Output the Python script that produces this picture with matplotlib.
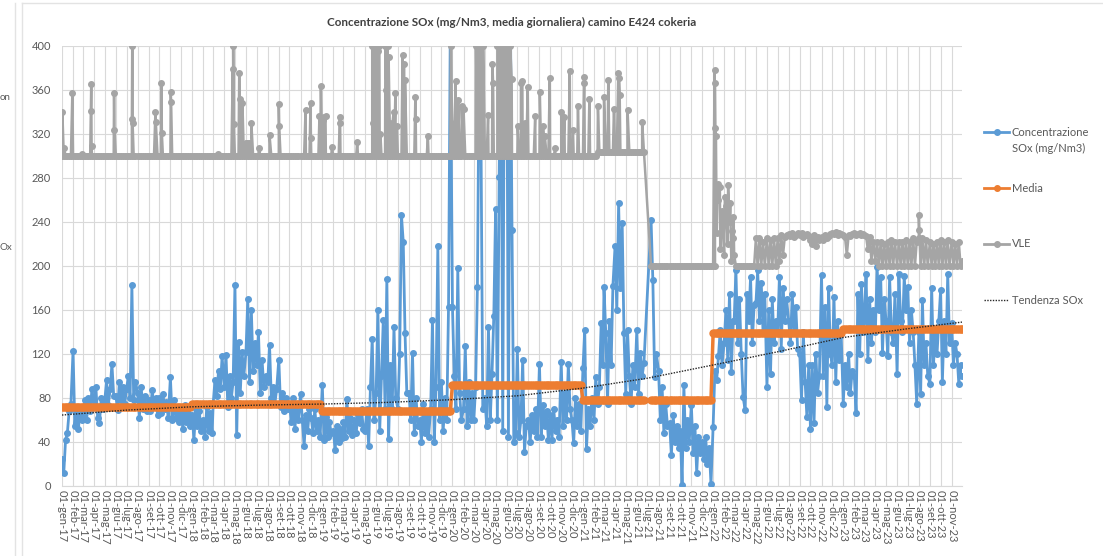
import numpy as np
import pandas as pd
import matplotlib

matplotlib.use('Agg')
import matplotlib.pyplot as plt
from matplotlib.lines import Line2D

plt.rcParams['font.family'] = ['Lato', 'DejaVu Sans']

nan = np.nan

# campioni ogni 5 giorni (giorni 1, 6, 11, 16, 21, 26 di ogni mese)
sox_2017 = [25, 12, 42, 48, 68, 75, 123, 55, 72, 52, 70, 60,
            65, 78, 60, 80, 68, 88, 72, 90, 62, 57, 80, 70,
            78, 96, 74, 88, 111, 82, 82, 69, 95, 78, 90, 75,
            88, 100, 80, 183, 78, 95, 85, 62, 90, 70, 82, 68,
            78, 68, 87, 72, 80, 65, 80, 66, 84, 70, 76, 62,
            99, 60, 78, 62, 72, 58, 70, 52, 74, 58, 66, 55]
sox_2018 = [65, 42, 70, 55, 68, 50, 60, 45, 72, 50, 66, 48,
            75, 96, 82, 105, 88, 118, 90, 119, 72, 100, 80, 95,
            183, 46, 131, 85, 122, 100, 122, 170, 95, 160, 105, 130,
            110, 140, 85, 115, 90, 100, 95, 128, 80, 90, 75, 88,
            115, 72, 85, 68, 80, 70, 75, 58, 80, 52, 70, 60,
            84, 60, 36, 65, 50, 70, 62, 48, 70, 50, 60, 45]
sox_2019 = [92, 42, 63, 45, 58, 48, 50, 33, 55, 40, 52, 44,
            58, 45, 79, 50, 62, 46, 60, 48, 65, 57, 70, 52,
            50, 70, 36, 90, 134, 60, 85, 160, 50, 100, 151, 70,
            188, 43, 110, 70, 145, 80, 70, 120, 246, 222, 139, 85,
            85, 60, 121, 48, 80, 55, 60, 40, 75, 48, 65, 45,
            70, 151, 40, 90, 218, 60, 95, 50, 80, 60, 163, 420]
sox_2020 = [163, 100, 70, 198, 85, 60, 70, 127, 55, 95, 60, 85,
            60, 90, 181, 392, 320, 70, 80, 55, 145, 60, 102, 155,
            252, 60, 281, 450, 50, 450, 450, 45, 450, 233, 40, 48,
            125, 45, 60, 115, 31, 55, 60, 40, 65, 50, 70, 45,
            111, 45, 74, 55, 68, 42, 65, 42, 70, 50, 60, 45,
            113, 55, 85, 60, 111, 70, 60, 39, 80, 55, 75, 50]
sox_2021 = [107, 142, 34, 70, 55, 80, 60, 99, 75, 90, 148, 110,
            181, 139, 75, 150, 110, 182, 218, 160, 257, 180, 239, 139,
            84, 142, 100, 75, 110, 90, 142, 84, 121, 100, 112, nan,
            nan, nan, 242, 187, 99, 120, 105, 60, 90, 48, 75, 55,
            57, 28, 65, 40, 55, 35, 50, 1, 92, 35, 60, 40,
            74, 30, 55, 12, 45, 30, 40, 25, 45, 20, 35, 2]
sox_2022 = [54, 105, 96, 118, 142, 110, 130, 160, 115, 175, 104, 150,
            150, 196, 130, 170, 120, 81, 69, 175, 150, 190, 130, 165,
            166, 196, 150, 185, 140, 175, 90, 160, 102, 170, 130, 150,
            140, 190, 125, 180, 150, 170, 150, 130, 175, 140, 163, 125,
            120, 78, 140, 95, 63, 110, 52, 110, 57, 120, 85, 100,
            192, 100, 163, 72, 180, 120, 110, 172, 95, 150, 115, 140]
sox_2023 = [75, 110, 90, 120, 85, 105, 100, 66, 175, 120, 184, 140,
            150, 193, 115, 170, 130, 160, 140, 199, 160, 190, 121, 170,
            150, 118, 190, 140, 130, 175, 102, 193, 150, 140, 191, 160,
            181, 130, 160, 140, 110, 75, 140, 84, 169, 110, 130, 100,
            93, 180, 110, 140, 120, 150, 178, 95, 150, 120, 193, 130,
            148, 110, 130, 120, 93, 110, 100]

vle_2017 = [300] * 72
vle_2018 = [300] * 72
vle_2019 = [300] * 72
vle_2020 = [300] * 72
vle_2021 = [300, 300, 300, 300, 300, 300, 300, 300, 304, 304, 304, 304,
            304, 304, 304, 304, 304, 304, 304, 304, 304, 304, 304, 304,
            304, 304, 304, 304, 304, 304, 304, 304, 304, 304, 304, nan,
            nan, nan, 200, 200, 200, 200, 200, 200, 200, 200, 200, 200,
            200, 200, 200, 200, 200, 200, 200, 200, 200, 200, 200, 200,
            200, 200, 200, 200, 200, 200, 200, 200, 200, 200, 200, 200]
vle_2022 = [200, 200, 230, 260, 215, 250, 210, 255, 220, 240, 205, 225,
            210, 200, 200, 200, 200, 200, 200, 200, 200, 200, 200, 200,
            225, 200, 225, 200, 222, 200, 225, 200, 224, 200, 225, 200,
            225, 205, 228, 210, 226, 228, 229, 227, 230, 226, 228, 230,
            228, 230, 226, 228, 229, 227, 224, 220, 228, 218, 226, 224,
            226, 224, 228, 225, 227, 229, 230, 229, 231, 228, 230, 229]
vle_2023 = [228, 226, 210, 228, 227, 229, 230, 228, 229, 230, 228, 229,
            228, 227, 215, 226, 205, 222, 205, 222, 200, 222, 200, 220,
            200, 222, 200, 224, 200, 222, 200, 222, 200, 222, 200, 224,
            200, 222, 200, 225, 200, 222, 225, 200, 225, 200, 224, 200,
            222, 200, 220, 200, 222, 200, 224, 200, 222, 200, 224, 200,
            222, 200, 220, 200, 222, 200, 205]

# picchi giornalieri del VLE
vle_picchi = [
    ("2017-01-02", 340), ("2017-01-07", 307), ("2017-01-30", 357), ("2017-02-26", 302),
    ("2017-03-23", 341), ("2017-03-24", 365), ("2017-03-25", 309),
    ("2017-05-27", 357), ("2017-05-28", 324),
    ("2017-07-16", 334), ("2017-07-17", 400), ("2017-07-18", 330),
    ("2017-09-20", 340), ("2017-09-21", 331), ("2017-10-07", 366), ("2017-10-08", 321),
    ("2017-11-02", 358), ("2017-11-03", 349), ("2018-03-15", 302),
    ("2018-04-25", 379), ("2018-04-26", 400), ("2018-04-27", 329),
    ("2018-05-13", 375), ("2018-05-14", 352), ("2018-05-22", 348),
    ("2018-06-01", 312), ("2018-06-04", 312), ("2018-06-07", 311), ("2018-06-10", 312),
    ("2018-06-16", 330), ("2018-07-08", 307), ("2018-08-06", 319),
    ("2018-09-01", 347), ("2018-09-02", 327), ("2018-11-15", 342),
    ("2018-11-29", 348), ("2018-11-30", 316),
    ("2018-12-24", 336), ("2018-12-28", 364), ("2019-01-02", 333), ("2019-01-06", 335),
    ("2019-01-10", 336), ("2019-01-28", 308), ("2019-02-19", 335), ("2019-02-20", 330),
    ("2019-04-09", 313),
    ("2019-05-21", 400), ("2019-05-24", 330), ("2019-05-27", 400), ("2019-05-31", 360),
    ("2019-06-03", 400), ("2019-06-06", 395), ("2019-06-10", 400), ("2019-06-13", 320),
    ("2019-06-27", 400), ("2019-06-30", 360), ("2019-07-03", 400), ("2019-07-06", 390),
    ("2019-07-09", 330), ("2019-07-16", 327), ("2019-07-20", 340), ("2019-07-25", 357),
    ("2019-07-29", 327), ("2019-08-14", 392), ("2019-08-18", 384), ("2019-08-21", 369),
    ("2019-09-19", 354), ("2019-09-20", 334), ("2019-10-24", 318), ("2019-12-28", 400),
    ("2020-01-07", 330), ("2020-01-10", 368), ("2020-01-17", 351), ("2020-01-27", 345),
    ("2020-02-01", 343),
    ("2020-03-07", 400), ("2020-03-11", 400), ("2020-03-15", 380), ("2020-03-19", 400),
    ("2020-03-23", 400), ("2020-03-27", 400), ("2020-04-10", 337),
    ("2020-04-22", 384), ("2020-04-24", 366),
    ("2020-05-06", 400), ("2020-05-10", 400), ("2020-05-14", 350), ("2020-05-18", 400),
    ("2020-05-22", 400), ("2020-05-26", 400), ("2020-05-30", 380), ("2020-06-03", 400),
    ("2020-06-07", 400), ("2020-06-11", 400), ("2020-06-15", 370),
    ("2020-07-02", 327), ("2020-07-11", 366), ("2020-07-15", 368), ("2020-07-22", 330),
    ("2020-07-30", 363), ("2020-08-20", 336), ("2020-09-02", 358), ("2020-09-11", 327),
    ("2020-09-16", 318), ("2020-09-30", 371), ("2020-10-15", 307), ("2020-11-01", 340),
    ("2020-11-10", 335), ("2020-11-25", 377), ("2020-12-04", 324), ("2020-12-18", 345),
    ("2021-01-04", 372), ("2021-01-05", 366), ("2021-01-19", 352), ("2021-02-12", 345),
    ("2021-03-01", 354), ("2021-03-13", 369), ("2021-03-29", 343),
    ("2021-04-10", 375), ("2021-04-12", 371), ("2021-04-14", 355),
    ("2021-05-06", 342), ("2021-06-16", 331),
    ("2022-01-05", 378), ("2022-01-06", 366), ("2022-01-07", 325), ("2022-01-09", 318),
    ("2022-01-14", 275), ("2022-01-20", 272), ("2022-01-27", 240), ("2022-02-03", 263),
    ("2022-02-12", 274), ("2022-02-18", 257), ("2022-02-22", 232), ("2022-02-27", 245),
    ("2023-08-01", 246), ("2023-08-02", 233),
]

anni = [2017, 2018, 2019, 2020, 2021, 2022, 2023]
media_annua = [72, 74.5, 68.5, 92, 78, 139, 142.5]

tendenza_date = ["2017-01-01", "2017-07-01", "2018-01-01", "2018-07-01", "2019-01-01",
                 "2019-07-01", "2020-01-01", "2020-07-01", "2021-01-01", "2021-07-01",
                 "2022-01-01", "2022-07-01", "2023-01-01", "2023-07-01", "2023-11-30"]
tendenza_val = [64.5, 69, 72, 73.5, 74.5, 76, 78.5, 82, 89, 98, 110, 122, 135, 143, 149]

mesi = ['gen', 'feb', 'mar', 'apr', 'mag', 'giu', 'lug', 'ago', 'set', 'ott', 'nov', 'dic']

BLUE = '#5B9BD5'
ORANGE = '#ED7D31'
GREY = '#A5A5A5'
TXT = '#595959'
GRID = '#D9D9D9'

W, H = 1103, 556


def fx(px):
    return px / W


def fy(py):
    return 1 - py / H


# date dei campioni
month_starts = pd.date_range("2017-01-01", "2023-11-01", freq="MS")
dates = [m + pd.Timedelta(days=d) for m in month_starts for d in (0, 5, 10, 15, 20, 25)]
dates.append(pd.Timestamp("2023-11-30"))
dates = pd.DatetimeIndex(dates)

sox = pd.Series(sox_2017 + sox_2018 + sox_2019 + sox_2020 + sox_2021 + sox_2022 + sox_2023,
                index=dates, dtype=float)
vle = pd.Series(vle_2017 + vle_2018 + vle_2019 + vle_2020 + vle_2021 + vle_2022 + vle_2023,
                index=dates, dtype=float)
picchi = pd.Series([v for _, v in vle_picchi],
                   index=pd.DatetimeIndex([d for d, _ in vle_picchi]), dtype=float)
vle = pd.concat([vle, picchi]).sort_index(kind='mergesort').dropna()

media_map = dict(zip(anni, media_annua))
media = pd.Series([media_map[d.year] for d in dates], index=dates, dtype=float)
media[sox.isna()] = nan
sox = sox.dropna()
media = media.dropna()
trend = pd.Series(tendenza_val, index=pd.DatetimeIndex(tendenza_date))

fig = plt.figure(figsize=(W / 100, H / 100), dpi=100)
ax = fig.add_axes([fx(62), fy(486), fx(962) - fx(62), fy(46) - fy(486)])

ax.plot(sox.index, sox.values, color=BLUE, lw=2.0, marker='o', ms=4.0, zorder=3)
ax.plot(media.index, media.values, color=ORANGE, lw=2.5, marker='o', ms=5.0, zorder=4)
ax.plot(vle.index, vle.values, color=GREY, lw=1.8, marker='o', ms=4.0, zorder=5)
ax.plot(trend.index, trend.values, color='#262626', lw=1.0, ls=(0, (1, 1)), zorder=6)

ax.set_ylim(0, 400)
ax.set_xlim(pd.Timestamp("2017-01-01"), pd.Timestamp("2023-11-30"))
ax.set_yticks(np.arange(0, 401, 40))
ax.set_xticks(month_starts)
ax.set_xticklabels([f"01-{mesi[m.month - 1]}-{m.year % 100:02d}" for m in month_starts],
                   rotation=270, ha='center', va='top')
ax.tick_params(axis='both', length=0, colors=TXT, labelsize=8)
ax.tick_params(axis='y', pad=8)
ax.tick_params(axis='x', pad=3)
ax.grid(True, color=GRID, lw=0.8, zorder=0)
ax.set_axisbelow(True)
for s in ['top', 'right', 'left']:
    ax.spines[s].set_visible(False)
ax.spines['bottom'].set_color(GRID)

fig.text(fx(512), fy(22), "Concentrazione SOx (mg/Nm3, media giornaliera) camino E424 cokeria",
         ha='center', va='center', fontsize=8.4, fontweight='bold', color='#404040')

# legenda a destra
leg = [(132, BLUE, '-', 'o', "Concentrazione"), (188, ORANGE, '-', 'o', "Media"),
       (244, GREY, '-', 'o', "VLE"), (300, '#262626', ':', None, "Tendenza SOx")]
for y, c, ls, mk, label in leg:
    lw = 1.0 if mk is None else 2.0
    fig.add_artist(Line2D([fx(984), fx(1009)], [fy(y), fy(y)], color=c, lw=lw,
                          ls=ls if mk else (0, (1, 1)), transform=fig.transFigure))
    if mk:
        fig.add_artist(Line2D([fx(996.5)], [fy(y)], color=c, marker='o', ms=4,
                              transform=fig.transFigure))
    fig.text(fx(1012), fy(y), label, ha='left', va='center', fontsize=8, color=TXT)
fig.text(fx(1012), fy(148), "SOx (mg/Nm3)", ha='left', va='center', fontsize=8, color=TXT)

# frammenti a sinistra e bordi del riquadro
fig.text(0, fy(98), "on", ha='left', va='center', fontsize=7, color=TXT)
fig.text(0, fy(248), "Ox", ha='left', va='center', fontsize=7, color=TXT)
for x in (15, 22):
    fig.add_artist(Line2D([fx(x), fx(x)], [fy(3), 0], color='#E3E3E3', lw=1,
                          transform=fig.transFigure))
fig.add_artist(Line2D([fx(22), 1], [fy(3), fy(3)], color='#E3E3E3', lw=1,
                      transform=fig.transFigure))

fig.savefig('out.png', dpi=100)
